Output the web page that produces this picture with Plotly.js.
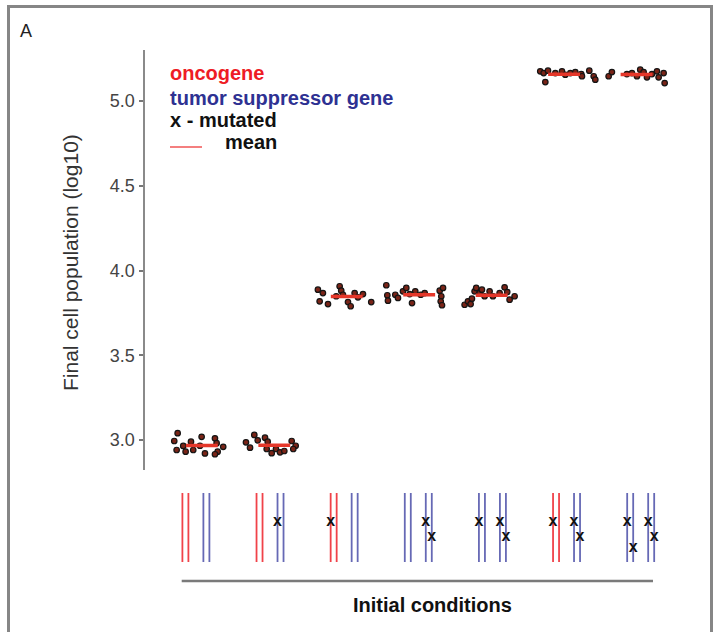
<!DOCTYPE html>
<html><head><meta charset="utf-8">
<script src="https://cdn.plot.ly/plotly-3.0.1.min.js"></script>
<style>
html,body{margin:0;padding:0;background:#fff;overflow:hidden;width:720px;height:632px;}
#chart{width:720px;height:632px;position:absolute;left:0;top:0;}
#frame{position:absolute;left:7px;top:5px;width:700px;height:700px;border:3px solid #868686;pointer-events:none;}
</style></head><body>
<div id="chart"></div>
<div id="frame"></div>
<script>
// ---- data: final cell population (log10) for each initial condition ----
const conditions = [1, 2, 3, 4, 5, 6, 7];
const tickValues = [3.0, 3.5, 4.0, 4.5, 5.0];
const tickLabels = ['3.0', '3.5', '4.0', '4.5', '5.0'];

const values1 = [3.040,2.994,2.941,2.965,2.931,2.990,2.941,3.019,2.966,2.921,3.010,2.981,2.931,2.960,2.916];
const jitter1 = [-0.334,-0.381,-0.348,-0.257,-0.224,-0.150,-0.119,-0.003,-0.026,0.043,0.181,0.204,0.218,0.295,0.181];
const values2 = [2.986,2.955,3.030,2.998,3.014,2.990,2.947,2.922,2.947,2.927,2.935,2.994,2.966,2.947];
const jitter2 = [-0.391,-0.335,-0.276,-0.229,-0.128,-0.091,-0.105,-0.036,0.023,0.079,0.138,0.240,0.295,0.262];
const values3 = [3.887,3.867,3.818,3.802,3.848,3.907,3.881,3.857,3.814,3.789,3.867,3.842,3.861,3.814];
const jitter3 = [-0.398,-0.329,-0.374,-0.259,-0.145,-0.098,-0.076,-0.052,0.017,0.054,0.109,0.155,0.224,0.338];
const values4 = [3.913,3.854,3.822,3.857,3.838,3.877,3.897,3.861,3.808,3.877,3.857,3.867,3.881,3.897,3.848,3.818,3.795];
const jitter4 = [-0.454,-0.440,-0.431,-0.330,-0.293,-0.224,-0.178,-0.131,-0.099,-0.054,0.021,0.076,0.283,0.329,0.305,0.297,0.315];
const values5 = [3.798,3.818,3.834,3.877,3.897,3.867,3.887,3.848,3.877,3.848,3.867,3.901,3.873,3.828,3.848,3.802];
const jitter5 = [-0.373,-0.327,-0.272,-0.235,-0.213,-0.166,-0.134,-0.097,-0.028,0.018,0.110,0.179,0.215,0.248,0.317,-0.290];
const values6 = [5.175,5.165,5.112,5.179,5.165,5.175,5.155,5.165,5.171,5.159,5.146,5.179,5.146,5.126];
const jitter6 = [-0.329,-0.282,-0.259,-0.222,-0.121,-0.029,0.017,0.086,0.155,0.237,0.247,0.348,0.409,0.431];
const values7 = [5.146,5.171,5.159,5.165,5.146,5.185,5.171,5.140,5.159,5.175,5.140,5.165,5.106];
const jitter7 = [-0.385,-0.340,-0.133,-0.063,0.006,0.051,0.098,0.144,0.213,0.282,0.305,0.374,0.388];

// ---- initial conditions: gene type of the two genes and their mutations ----
const leftGene  = ['oncogene','oncogene','oncogene','tsg','tsg','oncogene','tsg'];
const rightGene = ['tsg','tsg','tsg','tsg','tsg','tsg','tsg'];
const mutCondition = [2,3,4,4,5,5,5,6,6,6,7,7,7,7];
const mutGene      = [1,0,1,1,0,1,1,0,1,1,0,0,1,1];   // 0 = left gene, 1 = right gene
const mutAllele    = [0,0,0,1,0,0,1,0,0,1,0,1,0,1];
const mutLocus     = [0.58,0.58,0.58,0.36,0.58,0.58,0.36,0.58,0.58,0.36,0.58,0.20,0.58,0.36];

// ---- build traces ----
const allValues = [values1,values2,values3,values4,values5,values6,values7];
const allJitter = [jitter1,jitter2,jitter3,jitter4,jitter5,jitter6,jitter7];

const px = [], py = [];
const mx = [], my = [];
const halfMean = 0.22;
conditions.forEach((c, i) => {
  const v = allValues[i], j = allJitter[i];
  v.forEach((val, k) => { px.push(c + j[k]); py.push(val); });
  const mean = v.reduce((a, b) => a + b, 0) / v.length;
  mx.push(c - halfMean, c + halfMean, null);
  my.push(mean, mean, null);
});

const geneOffset = [-0.1416, 0.1416];
const alleleOffset = [-0.0405, 0.0405];
const redX = [], redY = [], blueX = [], blueY = [];
conditions.forEach((c, i) => {
  [leftGene[i], rightGene[i]].forEach((g, gi) => {
    alleleOffset.forEach(ao => {
      const xx = c + geneOffset[gi] + ao;
      const tx = g === 'oncogene' ? redX : blueX;
      const ty = g === 'oncogene' ? redY : blueY;
      tx.push(xx, xx, null); ty.push(0, 1, null);
    });
  });
});
const mutX = mutCondition.map((c, k) => c + geneOffset[mutGene[k]] + alleleOffset[mutAllele[k]]);

const FONT = 'Liberation Sans, Arial, Helvetica, sans-serif';

const traces = [
  {x: redX, y: redY, xaxis: 'x2', yaxis: 'y2', mode: 'lines', type: 'scatter',
   line: {color: '#f04249', width: 1.8}, hoverinfo: 'skip', showlegend: false},
  {x: blueX, y: blueY, xaxis: 'x2', yaxis: 'y2', mode: 'lines', type: 'scatter',
   line: {color: '#6669b5', width: 1.8}, hoverinfo: 'skip', showlegend: false},
  {x: mutX, y: mutLocus, xaxis: 'x2', yaxis: 'y2', mode: 'text', type: 'scatter',
   text: mutX.map(() => 'x'), textposition: 'middle center',
   textfont: {family: FONT, size: 16, color: '#111', weight: 'bold'}, showlegend: false, hoverinfo: 'skip'},
  {x: px, y: py, mode: 'markers', type: 'scatter', showlegend: false,
   marker: {size: 5.5, color: '#7a2417', line: {color: '#141414', width: 1.2}}},
  {x: mx, y: my, mode: 'lines', type: 'scatter', showlegend: false,
   line: {color: '#e5372a', width: 3.5}}
];

const layout = {
  width: 720, height: 632,
  margin: {l: 145, r: 20, t: 50, b: 47},
  paper_bgcolor: '#fff', plot_bgcolor: 'rgba(0,0,0,0)',
  showlegend: false,
  font: {family: FONT, color: '#444'},
  xaxis: {range: [0.2153, 7.876], visible: false, domain: [0, 1], anchor: 'y'},
  yaxis: {domain: [0.21495, 1], range: [2.823, 5.301], anchor: 'x',
          tickvals: tickValues, ticktext: tickLabels,
          showline: true, linecolor: '#8a8a8a', linewidth: 2.5,
          ticks: 'outside', ticklen: 4, tickwidth: 2, tickcolor: '#777',
          showgrid: false, zeroline: false,
          tickfont: {family: FONT, size: 18, color: '#444'}},
  xaxis2: {range: [0.3134, 7.8002], visible: false, domain: [0, 1], anchor: 'y2'},
  yaxis2: {domain: [0, 0.17757], range: [-0.3333, 1.0435], visible: false, anchor: 'x2'},
  shapes: [
    {type: 'line', xref: 'x2', yref: 'y2', x0: 0.8085, x1: 7.166, y0: -0.2754, y1: -0.2754,
     line: {color: '#7a7a7a', width: 2.5}},
    {type: 'line', xref: 'paper', yref: 'paper', x0: 0.045, x1: 0.1027, y0: 0.8187, y1: 0.8187,
     line: {color: '#f05555', width: 1.5}}
  ],
  annotations: [
    {text: 'A', xref: 'paper', yref: 'paper', x: -0.2288, y: 1.0346, xanchor: 'left', yanchor: 'middle',
     showarrow: false, font: {family: FONT, size: 18, color: '#222'}},
    {text: 'oncogene', xref: 'paper', yref: 'paper', x: 0.0414, y: 0.957, xanchor: 'left', yanchor: 'middle',
     showarrow: false, font: {family: FONT, size: 20, color: '#ee1c25', weight: 'bold'}},
    {text: 'tumor suppressor gene', xref: 'paper', yref: 'paper', x: 0.0414, y: 0.9103, xanchor: 'left', yanchor: 'middle',
     showarrow: false, font: {family: FONT, size: 20, color: '#2e3192', weight: 'bold'}},
    {text: 'x - mutated', xref: 'paper', yref: 'paper', x: 0.0414, y: 0.8692, xanchor: 'left', yanchor: 'middle',
     showarrow: false, font: {family: FONT, size: 20, color: '#111', weight: 'bold'}},
    {text: 'mean', xref: 'paper', yref: 'paper', x: 0.1405, y: 0.828, xanchor: 'left', yanchor: 'middle',
     showarrow: false, font: {family: FONT, size: 20, color: '#111', weight: 'bold'}},
    {text: 'Final cell population (log10)', xref: 'paper', yref: 'paper', x: -0.1333, y: 0.6019,
     xanchor: 'center', yanchor: 'middle', textangle: -90, showarrow: false,
     font: {family: FONT, size: 21, color: '#333'}},
    {text: 'Initial conditions', xref: 'paper', yref: 'paper', x: 0.5189, y: -0.0374,
     xanchor: 'center', yanchor: 'middle', showarrow: false,
     font: {family: FONT, size: 20, color: '#111', weight: 'bold'}}
  ]
};

Plotly.newPlot('chart', traces, layout, {displayModeBar: false, staticPlot: true});
</script>
</body></html>
